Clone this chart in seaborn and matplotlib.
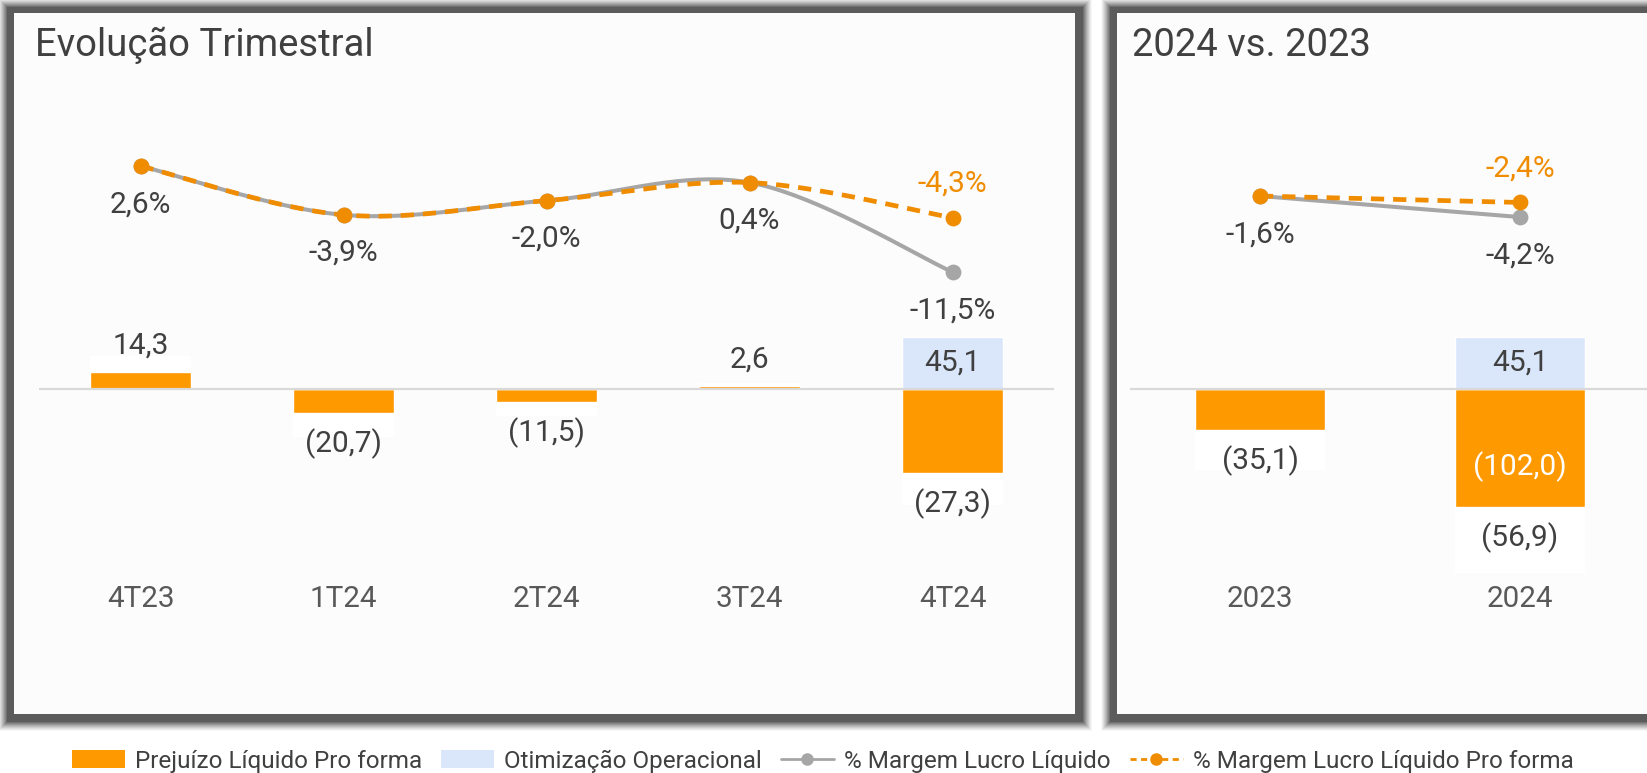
import numpy as np
import matplotlib
matplotlib.use("Agg")
import matplotlib.pyplot as plt
import seaborn as sns
from matplotlib.patches import Rectangle, Patch
from matplotlib.lines import Line2D

# ---------------- data ----------------
quarters = ["4T23", "1T24", "2T24", "3T24", "4T24"]
q_loss = [14.3, -20.7, -11.5, 2.6, -72.4]          # orange bar (reported)
q_optim = [0.0, 0.0, 0.0, 0.0, 45.1]               # blue bar
q_proforma = [14.3, -20.7, -11.5, 2.6, -27.3]      # pro forma result (label)
q_margin = [2.6, -3.9, -2.0, 0.4, -11.5]           # % margem lucro líquido
q_margin_pf = [2.6, -3.9, -2.0, 0.4, -4.3]         # % margem pro forma

years = ["2023", "2024"]
y_loss = [-35.1, -102.0]
y_optim = [0.0, 45.1]
y_proforma = [-35.1, -56.9]
y_margin = [-1.6, -4.2]
y_margin_pf = [-1.6, -2.4]

titles = ["Evolução Trimestral", "2024 vs. 2023"]
legend_labels = ["Prejuízo Líquido Pro forma", "Otimização Operacional",
                 "% Margem Lucro Líquido", "% Margem Lucro Líquido Pro forma"]

# ---------------- style ----------------
ORANGE_BAR = "#FF9900"
ORANGE = "#F08C00"
BLUE = "#DAE7FB"
GREY = "#A6A6A6"
TXT = "#404040"
CAT = "#595959"
PANEL = "#FCFCFC"
VAL_FS = 21.5

sns.set_theme(style="white")
plt.rcParams["font.family"] = ["Roboto", "DejaVu Sans"]

W, H = 1647, 773
fig = plt.figure(figsize=(W / 100, H / 100), dpi=100)
fig.patch.set_facecolor("white")


def fx(px):
    return px / W


def fy(py):
    return 1 - py / H


def panel(x0, y0, x1, y1):
    dark = np.array([0x5c, 0x5c, 0x5c]) / 255.0
    for k in range(17, 0, -1):
        f = 1.0 if k <= 7 else max(0.0, (17 - k) / 10.0) ** 1.3
        col = 1 - f * (1 - dark)
        r = Rectangle((fx(x0 - k), fy(y1 + k + 1)), fx(x1 - x0 + 2 * k + 1),
                      (y1 - y0 + 2 * k) / H, transform=fig.transFigure,
                      facecolor=col, edgecolor="none", zorder=-10)
        fig.add_artist(r)
    r = Rectangle((fx(x0), fy(y1)), fx(x1 - x0), (y1 - y0) / H,
                  transform=fig.transFigure, facecolor=PANEL,
                  edgecolor="none", zorder=-9)
    fig.add_artist(r)


panel(14, 13, 1075, 714)
panel(1117, 13, 1700, 714)

fig.text(fx(35), fy(56), titles[0], fontsize=27.5, color=TXT, va="baseline", ha="left")
fig.text(fx(1132), fy(56), titles[1], fontsize=27.5, color=TXT, va="baseline", ha="left")


def fmt_val(v):
    s = f"{abs(v):.1f}".replace(".", ",")
    return f"({s})" if v < 0 else s


def fmt_pct(v):
    return f"{v:.1f}%".replace(".", ",")


def catmull(ys, n=40):
    ys = np.asarray(ys, float)
    xs = np.arange(len(ys), dtype=float)
    P = np.column_stack([xs, ys])
    P = np.vstack([P[0], P, P[-1]])
    out = []
    t = np.linspace(0, 1, n)[:, None]
    for i in range(1, len(P) - 2):
        p0, p1, p2, p3 = P[i - 1], P[i], P[i + 1], P[i + 2]
        seg = 0.5 * (2 * p1 + (-p0 + p2) * t + (2 * p0 - 5 * p1 + 4 * p2 - p3) * t ** 2
                     + (-p0 + 3 * p1 - 3 * p2 + p3) * t ** 3)
        out.append(seg if i == 1 else seg[1:])
    out = np.vstack(out)
    return out[:, 0], out[:, 1]


def make_panel(x0, x1, cats, loss, optim, pf, marg, marg_pf, bar_lim, line_lim,
               smooth, inner_label):
    y_top, y_bot = 60, 582
    ax = fig.add_axes([fx(x0), fy(y_bot), fx(x1 - x0), (y_bot - y_top) / H])
    ax.patch.set_visible(False)
    n = len(cats)
    sns.barplot(x=cats, y=loss, color=ORANGE_BAR, saturation=1, width=0.5,
                ax=ax, order=cats, zorder=2)
    sns.barplot(x=cats, y=optim, color=BLUE, saturation=1, width=0.5,
                ax=ax, order=cats, zorder=2)
    # label backgrounds (white boxes)
    ax.bar(np.arange(n), pf, bottom=loss, width=0.5, color="white", zorder=1,
           linewidth=0)
    ax.axhline(0, color="#D9D9D9", lw=1.6, zorder=3)
    ax.set_xlim(-0.5, n - 0.5)
    ax.set_ylim(*bar_lim)
    ax.set_yticks([])
    ax.set_xlabel("")
    ax.set_ylabel("")
    ax.tick_params(axis="x", length=0, pad=2, labelsize=21.3, labelcolor=CAT)
    for s in ax.spines.values():
        s.set_visible(False)

    for i in range(n):
        if loss[i] >= 0:
            ax.annotate(fmt_val(pf[i]), (i, loss[i]), xytext=(0, 19),
                        textcoords="offset points", ha="center", va="center",
                        fontsize=VAL_FS, color=TXT, zorder=5)
        else:
            ax.annotate(fmt_val(pf[i]), (i, loss[i]), xytext=(0, -22),
                        textcoords="offset points", ha="center", va="center",
                        fontsize=VAL_FS, color=TXT, zorder=5)
        if optim[i] > 0:
            ax.annotate(fmt_val(optim[i]), (i, optim[i] / 2), ha="center",
                        va="center", fontsize=VAL_FS, color=TXT, zorder=5)
        if inner_label[i]:
            ax.annotate(fmt_val(loss[i]), (i, loss[i]), xytext=(0, 29),
                        textcoords="offset points", ha="center", va="center",
                        fontsize=VAL_FS, color="white", zorder=5)

    ax2 = ax.twinx()
    ax2.patch.set_visible(False)
    ax2.set_ylim(*line_lim)
    ax2.set_yticks([])
    for s in ax2.spines.values():
        s.set_visible(False)
    xs = np.arange(n)
    if smooth:
        sx, sy = catmull(marg)
        ax2.plot(sx, sy, color=GREY, lw=2.9, zorder=4, solid_capstyle="round")
        px, py = catmull(marg_pf)
        ax2.plot(px, py, color=ORANGE, lw=3.4, ls=(0, (2.8, 1.9)), zorder=5)
    else:
        sns.lineplot(x=xs, y=marg, color=GREY, lw=2.9, ax=ax2, zorder=4,
                     estimator=None, sort=False)
        sns.lineplot(x=xs, y=marg_pf, color=ORANGE, lw=3.4, ax=ax2, zorder=5,
                     estimator=None, sort=False, linestyle=(0, (2.8, 1.9)))
    sns.scatterplot(x=xs, y=marg, color=GREY, s=130, linewidth=0, ax=ax2,
                    zorder=6)
    sns.scatterplot(x=xs, y=marg_pf, color=ORANGE, s=130, linewidth=0, ax=ax2,
                    zorder=7)
    ax2.set_xlim(-0.5, n - 0.5)
    ax2.set_ylim(*line_lim)
    for i in range(n):
        ax2.annotate(fmt_pct(marg[i]), (i, marg[i]), xytext=(0, -27.5),
                     textcoords="offset points", ha="center", va="center",
                     fontsize=VAL_FS, color=TXT, zorder=8)
        if marg_pf[i] != marg[i]:
            ax2.annotate(fmt_pct(marg_pf[i]), (i, marg_pf[i]), xytext=(0, 24.5),
                         textcoords="offset points", ha="center", va="center",
                         fontsize=VAL_FS, color=ORANGE, zorder=8)
    return ax, ax2


# pixel-calibrated limits (zero line at y=389 px, 1.16 px per unit)
make_panel(39, 1054, quarters, q_loss, q_optim, q_proforma, q_margin, q_margin_pf,
           bar_lim=(-(582 - 389) / 1.16, (389 - 60) / 1.16),
           line_lim=(2.6 - (582 - 166) / 7.52, 2.6 + (166 - 60) / 7.52),
           smooth=True, inner_label=[False] * 5)
make_panel(1130, 1650, years, y_loss, y_optim, y_proforma, y_margin, y_margin_pf,
           bar_lim=(-(582 - 389) / 1.16, (389 - 60) / 1.16),
           line_lim=(-1.6 - (582 - 196) / 8.1, -1.6 + (196 - 60) / 8.1),
           smooth=False, inner_label=[False, True])

handles = [
    Patch(facecolor=ORANGE_BAR, edgecolor="none"),
    Patch(facecolor=BLUE, edgecolor="none"),
    Line2D([], [], color=GREY, lw=2, marker="o", ms=8, mfc=GREY, mec=GREY),
    Line2D([], [], color=ORANGE, lw=2, ls=(0, (2.2, 1.6)), marker="o", ms=8,
           mfc=ORANGE, mec=ORANGE),
]
fig.legend(handles, legend_labels, loc="center", bbox_to_anchor=(0.4994, fy(761)),
           ncol=4, fontsize=17.5, handlelength=2.2, handleheight=0.78,
           handletextpad=0.4, columnspacing=0.78, frameon=False,
           labelcolor=TXT)

fig.savefig("out.png", dpi=100, facecolor="white")
